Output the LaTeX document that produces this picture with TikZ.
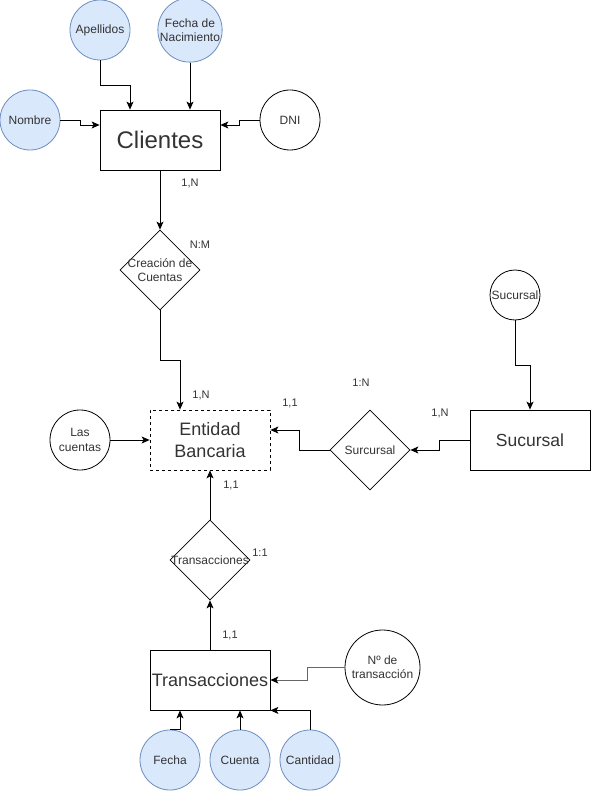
\documentclass[tikz,border=0pt]{standalone}
\usepackage{fontspec}
\setmainfont{Liberation Sans}
\usetikzlibrary{shapes.geometric,arrows.meta}
\definecolor{attrfill}{HTML}{DAE8FC}
\definecolor{attrdraw}{HTML}{6C8EBF}
\definecolor{txt}{HTML}{333333}
\begin{document}
\begin{tikzpicture}[x=1pt,y=-1pt,
  every node/.style={text=txt},
  fs/.style 2 args={font=\fontsize{#1}{#2}\selectfont},
  attr/.style={circle,draw=attrdraw,fill=attrfill,line width=0.8pt,minimum size=60pt,inner sep=0pt,align=center,fs={12}{14.4}},
  attrw/.style={circle,draw=black,fill=white,line width=0.8pt,minimum size=60pt,inner sep=0pt,align=center,fs={12}{14.4}},
  entity/.style={rectangle,draw=black,line width=0.8pt,minimum width=120pt,minimum height=60pt,inner sep=0pt,align=center},
  rel/.style={diamond,draw=black,line width=0.8pt,minimum width=80pt,minimum height=80pt,inner sep=0pt},
  card/.style={fs={11}{13},inner sep=0pt},
  arr/.style={-{Stealth[length=8pt,width=7pt,inset=2pt,color=black]},line width=0.8pt,draw=black}
]
\useasboundingbox (0,0) rectangle (591,791);

% Clientes block
\node[entity,fs={24}{28}] (cli) at (160,140) {Clientes};
\node[attr] (apel) at (100,30) {Apellidos};
\node[attr] (fnac) at (190,30) {Fecha de\\Nacimiento};
\node[attr] (nom) at (30,120) {Nombre};
\node[attrw] (dni) at (290,120) {DNI};

\draw[arr] (apel.south) -- ++(0,25) -| ([xshift=-30pt]cli.north);
\draw[arr] (fnac.south) -- ([xshift=30pt]cli.north);
\draw[arr] (nom.east) -- ++(20,0) |- ([yshift=15pt]cli.west);
\draw[arr] (dni.west) -- ++(-20,0) |- ([yshift=15pt]cli.east);

\node[rel,label={[fs={12}{14.4},align=center,text=txt]center:Creación de\\Cuentas}] (crea) at (160,270) {};
\draw[arr] (cli.south) -- (crea.north);

% Entidad Bancaria
\node[entity,dashed,fs={18}{21.6}] (ent) at (210,440) {Entidad\\Bancaria};
\draw[arr] (crea.south) -- ++(0,50) -| ([xshift=-30pt]ent.north);

\node[attrw] (las) at (80,440) {Las\\cuentas};
\draw[arr] (las.east) -- (ent.west);

\node[rel,label={[fs={12}{14.4},text=txt]center:Surcursal}] (sur) at (370,450) {};
\draw[arr] (sur.west) -- ++(-30,0) |- ([yshift=10pt]ent.east);

\node[entity,fs={17.5}{21}] (suc) at (530,440) {Sucursal};
\draw[arr] (suc.west) -- ++(-30,0) |- (sur.east);

\node[attrw,minimum size=50pt] (succ) at (515,295) {Sucursal};
\draw[arr] (succ.south) -- ++(0,45) -| (suc.north);

% Transacciones
\node[rel,label={[fs={12}{14.4},text=txt]center:Transacciones}] (trd) at (210,560) {};
\draw[arr] (trd.north) -- (ent.south);

\node[entity,fs={18}{21.6}] (trr) at (210,680) {Transacciones};
\draw[arr] (trr.north) -- (trd.south);

\node[attrw,minimum size=75pt] (num) at (382.5,667.5) {Nº de\\transacción};
\draw[arr,draw=black!60] (num.west) -- ++(-37,0) |- (trr.east);

\node[attr] (fec) at (170,760) {Fecha};
\node[attr] (cue) at (240,760) {Cuenta};
\node[attr] (can) at (310,760) {Cantidad};
\draw[arr] (fec.north) -| ([xshift=-30pt]trr.south);
\draw[arr] (cue.north) -- ([xshift=30pt]trr.south);
\draw[arr] (can.north) |- (trr.south east);

% cardinality labels
\node[card] (c1) at (190,183) {1,N};
\node[card] (c2) at (200,245) {N:M};
\node[card] (c3) at (201,395) {1,N};
\node[card] (c4) at (290,403) {1,1};
\node[card] (c5) at (361,383) {1:N};
\node[card] (c6) at (440,413) {1,N};
\node[card] (c7) at (231,485) {1,1};
\node[card] (c8) at (260,553) {1:1};
\node[card] (c9) at (230,635) {1,1};
\end{tikzpicture}
\end{document}
